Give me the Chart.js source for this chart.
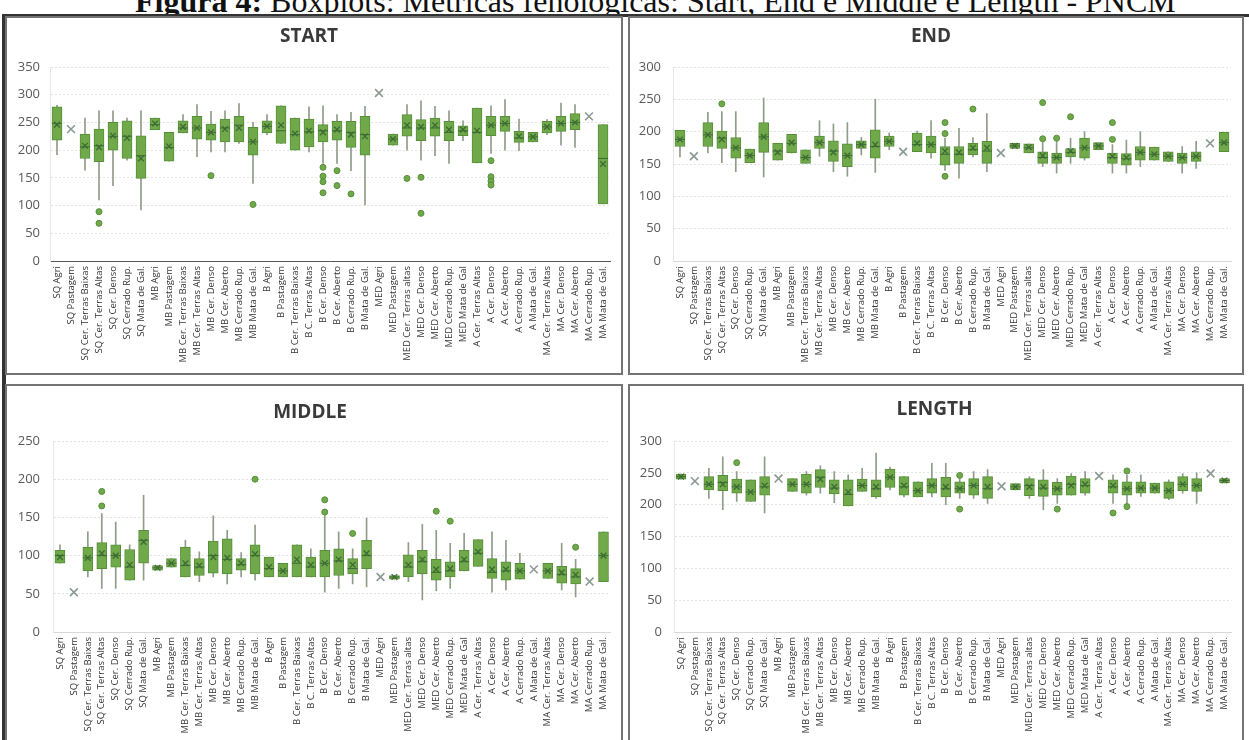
<!DOCTYPE html>
<html>
<head>
<meta charset="utf-8">
<script src="https://cdn.jsdelivr.net/npm/chart.js@4/dist/chart.umd.min.js"></script>
<style>
  html, body { margin: 0; padding: 0; background: #fff; }
  body { width: 1249px; height: 740px; position: relative; overflow: hidden; }
  .caption { position: absolute; left: 135px; top: -15px; font: 32px/32px "Liberation Serif", serif; color: #111; white-space: nowrap; }
  .caption b { font-weight: bold; }
  .frame-top { position: absolute; left: 2px; top: 14px; width: 1247px; height: 3px; background: #333; }
  .frame-left { position: absolute; left: 2px; top: 14px; width: 4px; height: 726px; background: #333; }
  .panel { position: absolute; box-sizing: border-box; border: 2px solid #747474; background: #fff; }
  canvas { position: absolute; }
</style>
</head>
<body>
<div class="caption"><b>Figura 4:</b> Boxplots: Métricas fenológicas: Start, End e Middle e Length - PNCM</div>
<div class="frame-top"></div>
<div class="frame-left"></div>
<div class="panel" style="left:5px;top:16px;width:618px;height:359px"></div>
<div class="panel" style="left:628px;top:16px;width:616px;height:359px"></div>
<div class="panel" style="left:5px;top:384px;width:618px;height:362px"></div>
<div class="panel" style="left:628px;top:384px;width:616px;height:362px"></div>
<canvas id="cStart" width="612" height="354" style="left:8px;top:19px"></canvas>
<canvas id="cEnd" width="610" height="354" style="left:631px;top:19px"></canvas>
<canvas id="cMiddle" width="612" height="353" style="left:8px;top:387px"></canvas>
<canvas id="cLength" width="610" height="353" style="left:631px;top:387px"></canvas>
<script>
// Land-cover classes per region (SQ, MB, B, MED, A, MA)
const categories = [
  'SQ Agri', 'SQ Pastagem', 'SQ Cer. Terras Baixas', 'SQ Cer. Terras Altas', 'SQ Cer. Denso',
  'SQ Cerrado Rup.', 'SQ Mata de Gal.', 'MB Agri', 'MB Pastagem', 'MB Cer. Terras Baixas',
  'MB Cer. Terras Altas', 'MB Cer. Denso', 'MB Cer. Aberto', 'MB Cerrado Rup.', 'MB Mata de Gal.',
  'B Agri', 'B Pastagem', 'B Cer. Terras Baixas', 'B C. Terras Altas', 'B Cer. Denso',
  'B Cer. Aberto', 'B Cerrado Rup.', 'B Mata de Gal.', 'MED Agri', 'MED Pastagem',
  'MED Cer. Terras altas', 'MED Cer. Denso', 'MED Cer. Aberto', 'MED Cerrado Rup.', 'MED Mata de Gal',
  'A Cer. Terras Altas', 'A Cer. Denso', 'A Cer. Aberto', 'A Cerrado Rup.', 'A Mata de Gal.',
  'MA Cer. Terras Altas', 'MA Cer. Denso', 'MA Cer. Aberto', 'MA Cerrado Rup.', 'MA Mata de Gal.'
];

// START (day of year)
const startLow    = [192,null,164,110,136,182, 92,237,180,231,188,197,197,212,140,228,212,200,197,176,176,163,101,null,209,200,182,190,176,217,177,194,200,199,215,228,209,205,null,103];
const startQ1     = [218,null,185,179,200,185,149,237,180,231,220,218,215,215,191,231,212,200,206,215,218,205,191,null,209,225,217,225,217,226,177,226,234,214,215,231,234,237,null,103];
const startMedian = [248,null,206,208,225,225,190,246,205,240,240,232,240,245,215,243,235,228,233,235,235,232,228,null,220,240,240,240,232,235,232,245,248,222,224,242,248,250,null,185];
const startQ3     = [278,null,229,238,250,253,226,258,232,253,261,247,256,261,241,253,280,258,256,246,252,252,261,null,229,264,255,258,252,244,276,261,261,234,232,252,261,266,null,246];
const startHigh   = [281,null,258,271,271,258,271,258,232,264,282,270,271,284,250,264,280,258,278,280,264,268,279,null,229,282,289,279,271,253,276,280,291,256,232,255,285,282,null,246];
const startMean   = [246,238,208,205,226,222,185,248,207,242,240,232,238,240,215,243,245,230,235,232,237,228,225,303,220,245,242,245,237,237,235,245,248,225,224,242,248,250,261,175];
const startOutliers = [[],[],[],[89,68],[],[],[],[],[],[],[],[154],[],[],[102],[],[],[],[],[169,153,143,123],[163,136],[121],[],[],[],[149],[151,86],[],[],[],[],[181,152,144,137],[],[],[],[],[],[],[],[]];

// END (day of year)
const endLow    = [161,null,167,152,138,152,130,156,167,151,162,138,131,164,137,172,null,169,159,140,128,161,138,null,174,167,146,136,151,156,172,136,136,146,156,154,136,143,null,169];
const endQ1     = [177,null,177,174,159,152,168,156,167,151,174,154,146,174,159,177,null,169,167,148,151,164,151,null,174,167,151,151,161,159,172,151,148,156,156,154,151,154,null,169];
const endMedian = [188,null,195,190,175,163,192,170,182,160,183,170,163,180,177,185,null,180,180,165,165,172,170,null,178,175,160,160,168,175,178,160,158,168,165,162,160,162,null,183];
const endQ3     = [202,null,214,201,191,173,214,182,196,172,193,186,181,186,203,193,null,198,193,177,177,182,185,null,182,181,169,167,174,190,183,167,166,177,176,169,167,169,null,199];
const endHigh   = [202,null,230,231,231,173,252,182,196,172,217,212,214,191,250,198,null,201,217,190,205,191,228,null,182,181,184,185,190,200,183,180,187,200,176,169,177,185,null,199];
const endMean   = [188,162,195,188,175,163,192,168,183,160,183,168,163,180,180,185,169,182,180,170,168,175,175,167,178,176,163,160,170,175,178,162,160,168,165,162,160,162,182,183];
const endOutliers = [[],[],[],[243],[],[],[],[],[],[],[],[],[],[],[],[],[],[],[],[214,197,131],[],[235],[],[],[],[],[245,189],[190],[223],[],[],[214,188],[],[],[],[],[],[],[],[]];

// MIDDLE (day of year)
const middleLow    = [ 90,null, 72, 57, 57, 68, 68, 81, 85, 72, 66, 72, 63, 72, 68, 72, 72, 72, 72, 52, 57, 63, 59,null, 69, 66, 42, 54, 57, 80, 86, 52, 55, 69,null, 70, 55, 46,null, 66];
const middleQ1     = [ 90,null, 80, 83, 85, 68, 90, 81, 85, 72, 74, 77, 76, 81, 76, 72, 72, 72, 72, 72, 74, 76, 83,null, 69, 72, 76, 68, 72, 80, 86, 70, 68, 69,null, 70, 64, 63,null, 66];
const middleMedian = [100,null, 97,100,100, 85,120, 84, 90, 87, 85,100, 95, 88,100, 83, 80, 90, 85, 90, 93, 83,100,null, 72, 85, 92, 78, 80, 92,103, 78, 80, 80,null, 80, 75, 72,null,100];
const middleQ3     = [107,null,111,117,114,108,133, 87, 96,111, 96,119,122, 96,114, 98, 90,114, 98,107,109, 96,120,null, 74,101,107, 95, 92,107,121, 96, 92, 90,null, 90, 86, 83,null,131];
const middleHigh   = [114,null,131,155,144,114,179, 87, 96,120,105,152,133,104,140, 98, 90,114,109,155,131,109,149,null, 74,117,141,133,116,129,121,131,120,103,null, 90,116, 95,null,131];
const middleMean   = [ 98, 52, 97,103,100, 88,118, 84, 90, 90, 87, 98, 97, 90,102, 85, 80, 95, 88, 90, 95, 88,103, 72, 72, 88, 95, 82, 83, 95,105, 82, 82, 80, 82, 80, 78, 75, 66,100];
const middleOutliers = [[],[],[],[184,165],[],[],[],[],[],[],[],[],[],[],[200],[],[],[],[],[173,157],[],[129],[],[],[],[],[],[158],[145],[],[],[],[],[],[],[],[],[111],[],[]];

// LENGTH (days)
const lengthLow    = [240,null,210,192,205,205,187,null,221,215,218,203,198,221,210,223,212,212,212,200,210,210,202,null,223,210,192,202,215,215,null,202,202,213,218,208,218,202,null,234];
const lengthQ1     = [240,null,223,222,218,205,215,null,221,218,227,217,198,221,212,227,215,212,218,212,218,215,210,null,223,214,213,215,215,218,null,218,215,218,218,210,222,221,null,234];
const lengthMedian = [244,null,232,235,228,220,228,null,232,232,243,226,216,230,225,243,228,222,230,225,225,230,225,null,228,230,226,225,232,230,null,228,225,226,226,222,232,230,null,238];
const lengthQ3     = [248,null,244,246,240,239,244,null,241,248,255,239,239,240,239,256,244,236,241,243,236,241,244,null,233,241,239,235,245,241,null,239,236,236,234,236,244,241,null,241];
const lengthHigh   = [248,null,257,275,252,239,275,null,241,252,261,252,247,257,281,259,244,236,265,265,240,252,255,null,233,244,255,241,249,252,null,247,247,247,234,239,249,250,null,241];
const lengthMean   = [244,237,232,232,228,220,230,241,232,232,240,228,220,230,228,243,230,222,230,228,225,230,228,229,228,228,228,225,230,232,245,230,225,226,226,222,232,230,249,238];
const lengthOutliers = [[],[],[],[],[266],[],[],[],[],[],[],[],[],[],[],[],[],[],[],[],[246,193],[],[],[],[],[],[],[193],[],[],[],[187],[253,197],[],[],[],[],[],[],[]];

// Axis tick values
const startTicks  = [0, 50, 100, 150, 200, 250, 300, 350];
const endTicks    = [0, 50, 100, 150, 200, 250, 300];
const middleTicks = [0, 50, 100, 150, 200, 250];
const lengthTicks = [0, 50, 100, 150, 200, 250, 300];

const BOX_FILL = '#6fa94a';
const BOX_EDGE = '#568f38';
const WHISKER = '#8f9c8a';
const MARK_DARK = '#3d6a33';
const MARK_GREY = '#8a9a90';

function boxplotChart(id, title, s, ticks, layout) {
  const single = i => s.q1[i] == null;
  const outlierPts = [];
  s.outliers.forEach((list, i) => list.forEach(v => outlierPts.push({ x: categories[i], y: v })));

  return new Chart(document.getElementById(id), {
    type: 'bar',
    data: {
      labels: categories,
      datasets: [
        {
          label: 'whisker', order: 5, grouped: false,
          data: s.low.map((v, i) => v == null ? null : [v, s.high[i]]),
          backgroundColor: WHISKER, borderWidth: 0, barThickness: 1
        },
        {
          label: 'box', order: 4, grouped: false,
          data: s.q1.map((v, i) => v == null ? null : [v, s.q3[i]]),
          backgroundColor: BOX_FILL, borderColor: BOX_EDGE, borderWidth: 1,
          borderSkipped: false, barThickness: 10
        },
        {
          label: 'median', type: 'line', order: 3, showLine: false,
          data: s.median,
          pointStyle: 'line', pointRadius: 5, pointBorderWidth: 1,
          pointBorderColor: MARK_DARK, pointBackgroundColor: MARK_DARK
        },
        {
          label: 'mean', type: 'line', order: 2, showLine: false,
          data: s.mean,
          pointStyle: 'crossRot',
          pointRadius: ctx => single(ctx.dataIndex) ? 5.5 : 4,
          pointBorderWidth: ctx => single(ctx.dataIndex) ? 1.6 : 1.3,
          pointBorderColor: ctx => single(ctx.dataIndex) ? MARK_GREY : MARK_DARK,
          pointBackgroundColor: 'transparent'
        },
        {
          label: 'outlier', type: 'line', order: 1, showLine: false,
          data: outlierPts,
          pointStyle: 'circle', pointRadius: 3,
          pointBackgroundColor: BOX_FILL, pointBorderColor: BOX_EDGE, pointBorderWidth: 1
        }
      ]
    },
    options: {
      responsive: false,
      animation: false,
      events: [],
      layout: { padding: { left: 0, right: layout.right, top: 0, bottom: 0 } },
      plugins: {
        legend: { display: false },
        tooltip: { enabled: false },
        title: {
          display: true, text: title, color: '#3a3a3a',
          font: { family: '"Open Sans", sans-serif', size: 19, weight: 'bold', lineHeight: 1.2 },
          padding: { top: layout.titleTop, bottom: layout.titleBottom }
        }
      },
      scales: {
        x: {
          offset: true,
          grid: { display: false, drawTicks: false },
          border: { display: true, color: layout.zeroColor, width: 1, dash: [3, 2] },
          ticks: {
            autoSkip: false, minRotation: 90, maxRotation: 90, padding: 5,
            color: '#333', font: { family: '"Open Sans", sans-serif', size: 9.5 }
          },
          afterFit: sc => { sc.height = layout.xHeight; }
        },
        y: {
          min: 0, max: ticks[ticks.length - 1],
          afterBuildTicks: sc => { sc.ticks = ticks.map(v => ({ value: v })); },
          grid: { color: '#e3e3e3', lineWidth: 1, drawTicks: false },
          border: { display: true, color: '#e6e6e6', dash: [2, 2] },
          ticks: {
            padding: layout.yPad, color: '#595959',
            font: { family: '"Open Sans", sans-serif', size: 13 }
          },
          afterFit: sc => { sc.width = layout.left; }
        }
      }
    }
  });
}

boxplotChart('cStart', 'START', {
  low: startLow, q1: startQ1, median: startMedian, q3: startQ3, high: startHigh,
  mean: startMean, outliers: startOutliers
}, startTicks, { left: 42, right: 10, titleTop: 6.6, titleBottom: 18.6, xHeight: 112, yPad: 10, zeroColor: '#555' });

boxplotChart('cEnd', 'END', {
  low: endLow, q1: endQ1, median: endMedian, q3: endQ3, high: endHigh,
  mean: endMean, outliers: endOutliers
}, endTicks, { left: 42, right: 10, titleTop: 6.6, titleBottom: 18.6, xHeight: 112, yPad: 12, zeroColor: '#d8d8d8' });

boxplotChart('cMiddle', 'MIDDLE', {
  low: middleLow, q1: middleQ1, median: middleMedian, q3: middleQ3, high: middleHigh,
  mean: middleMean, outliers: middleOutliers
}, middleTicks, { left: 45, right: 8, titleTop: 14.6, titleBottom: 16.6, xHeight: 108, yPad: 13, zeroColor: '#d8d8d8' });

boxplotChart('cLength', 'LENGTH', {
  low: lengthLow, q1: lengthQ1, median: lengthMedian, q3: lengthQ3, high: lengthHigh,
  mean: lengthMean, outliers: lengthOutliers
}, lengthTicks, { left: 43, right: 3, titleTop: 11.6, titleBottom: 19.6, xHeight: 108, yPad: 12, zeroColor: '#d8d8d8' });
</script>
</body>
</html>
